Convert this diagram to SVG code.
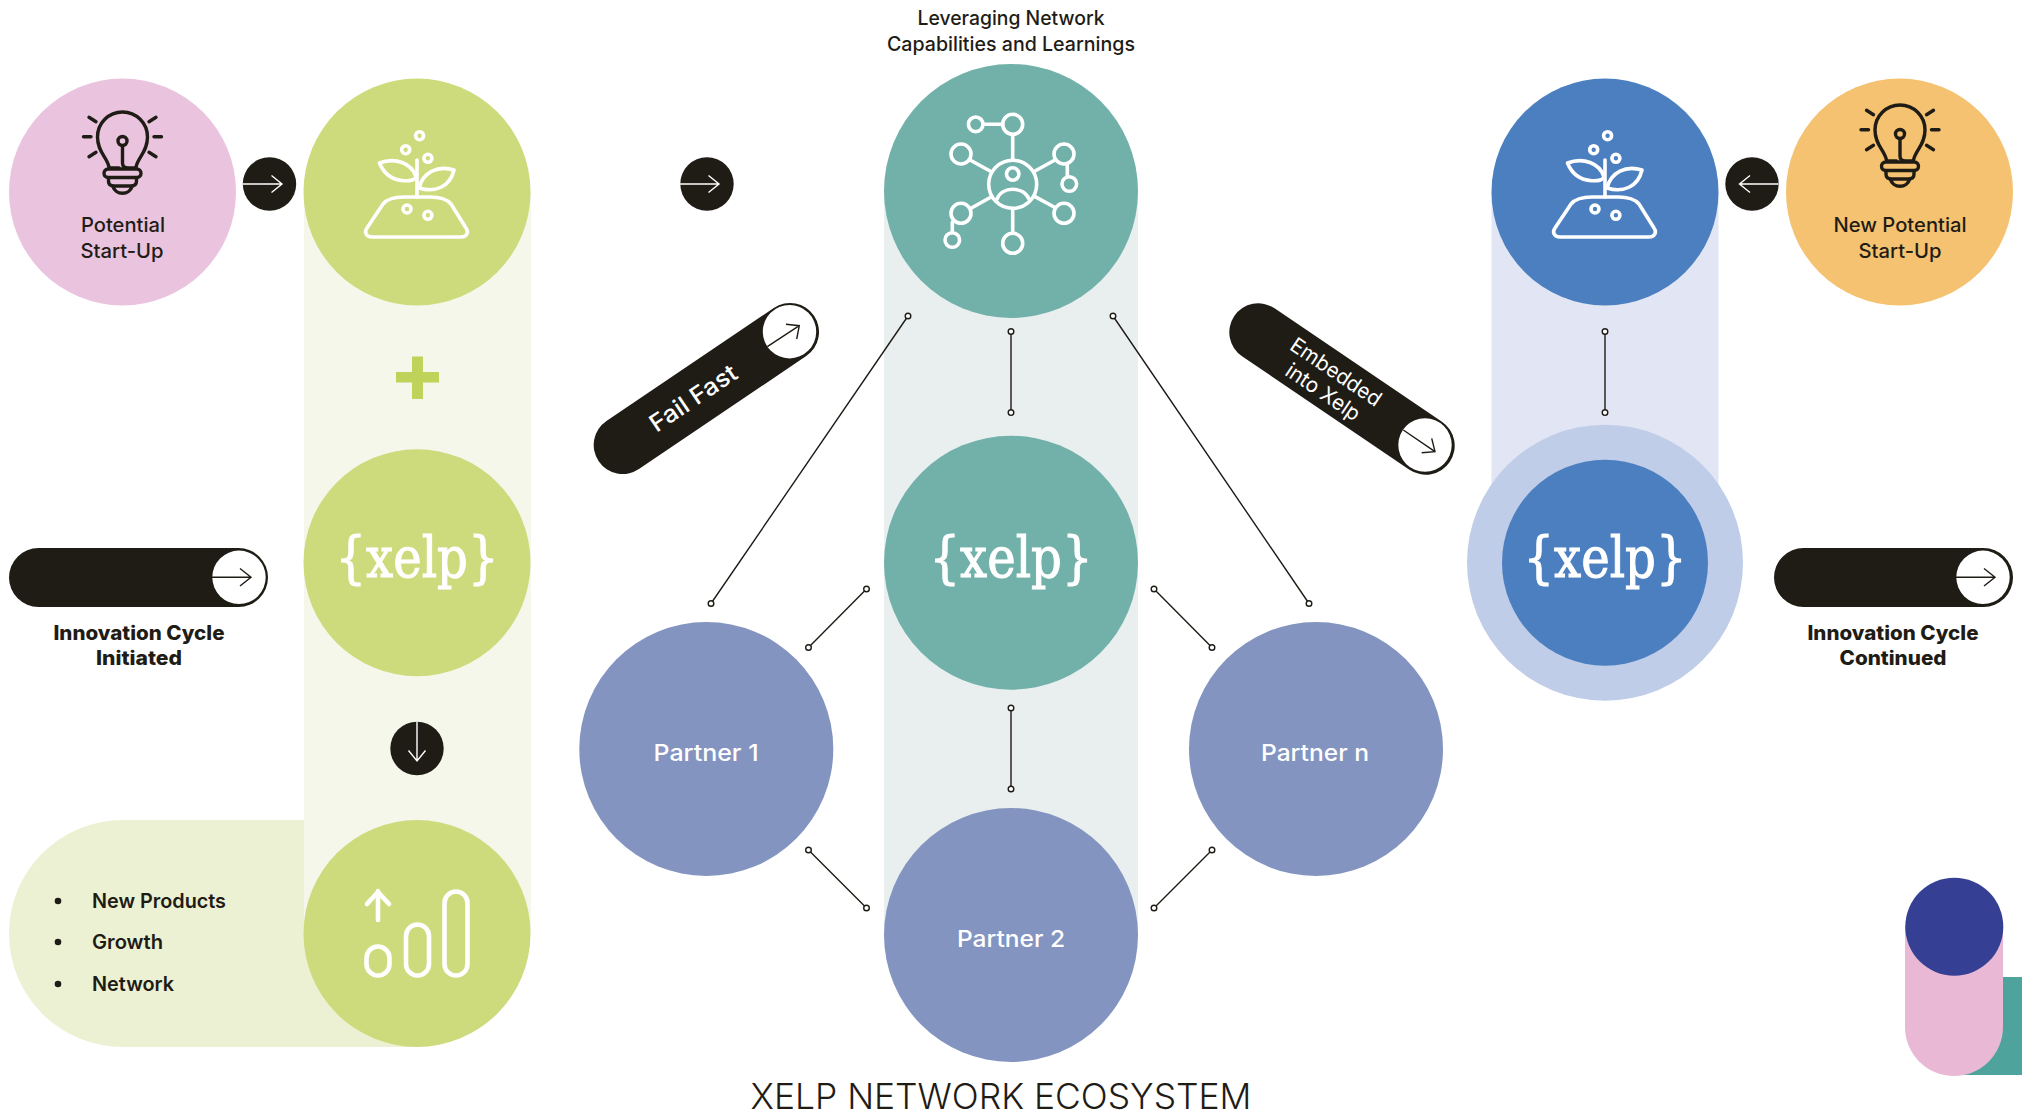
<svg xmlns="http://www.w3.org/2000/svg" width="2022" height="1114" viewBox="0 0 2022 1114">
<style>
text{font-family:"Inter","Liberation Sans",sans-serif;fill:#1f1c16;text-anchor:middle}
.lbl{font-size:20px;font-weight:500}
.bold{font-size:20px;font-weight:800}
.li{font-size:20px;font-weight:600;text-anchor:start}
.wt{fill:#fff}
.partner{font-size:23px;font-weight:500;fill:#fff}
.xelp{font-family:"DejaVu Serif",serif;font-size:56px;fill:#fff;stroke:#fff;stroke-width:1.1}
.title{font-size:35px;font-weight:300}
.dark{fill:#1f1c16}
.conn{fill:none;stroke:#1f1c16;stroke-width:1.4}
.dot{fill:#fff;stroke:#1f1c16;stroke-width:1.4}
.arw{fill:none;stroke:#fff;stroke-width:1.4}
.arwd{fill:none;stroke:#1f1c16;stroke-width:1.4}
.ico{fill:none;stroke:#1f1c16;stroke-width:3.4;stroke-linecap:round;stroke-linejoin:round}
.icw{fill:none;stroke:#fff;stroke-width:3.6;stroke-linecap:round;stroke-linejoin:round}
.g{fill:#cedb7d}.t{fill:#72b1aa}.b{fill:#4c7fc0}.p{fill:#8394c0}
</style>
<defs>
<g id="bulb">
<path d="M109,167C107,157 97.500,152 97.500,137A25,25 0 0 1 147.500,137C147.500,152 138,157 136,167"/>
<circle cx="122.500" cy="141" r="4.500"/>
<path d="M122.500,146V163Q122.500,168 128,168H136M109,168H119"/>
<rect x="104" y="169" width="37" height="8.500" rx="4.200"/>
<path d="M108.500,178V181Q108.500,186 114,186H131Q136.500,186 136.500,181V178"/>
<path d="M113,186.500A9.800,9 0 0 0 132,186.500"/>
<path d="M83.500,136.700H91M154,136.700H161.500M89,117.300L96,121.700M156,117.300L149,121.700M89,156.700L96,152.300M156,156.700L149,152.300"/>
</g>
<g id="plant">
<circle cx="419.600" cy="135.700" r="4"/><circle cx="405.700" cy="149.700" r="4"/><circle cx="427.900" cy="158.300" r="4"/>
<circle cx="407" cy="209" r="4"/><circle cx="427.900" cy="215.300" r="4"/>
<path d="M417,160V197"/>
<path d="M379.500,163C395,157 412,163 416,177C414,181 409,181 403.600,180.700C392,180 384,174 379.500,163Z"/>
<path d="M454,170C438,165 423,172 419,188C435,193 450,187 454,170Z"/>
<path d="M372,237H461C467,237 469,232 466,228L451,204C446,198 438,197 430,197H404C396,197 388,198 383,204L367,228C364,232 366,237 372,237Z"/>
</g>
</defs>

<g id="bands">
<path d="M417,820H122.500A113.500,113.500 0 0 0 122.500,1047H417Z" fill="#ecf1d3"/>
<rect x="304" y="192" width="227" height="741" fill="#f5f7ea"/>
<rect x="884" y="191" width="254" height="744" fill="#e9efef"/>
<rect x="1491.500" y="192" width="227" height="370" fill="#e2e6f4"/>
</g>

<g id="connectors">
<path class="conn" d="M908,316L711,603.500M1011,331.500V412.600M1113,316L1309,603.500M866.500,589L808.500,647.500M1154,589L1212,647.500M1011,708V789M808.500,850L866.500,908M1212,850L1154,908M1605,331.500V412.600"/>
<g class="dot">
<circle cx="908" cy="316" r="2.800"/><circle cx="711" cy="603.500" r="2.800"/>
<circle cx="1011" cy="331.500" r="2.800"/><circle cx="1011" cy="412.600" r="2.800"/>
<circle cx="1113" cy="316" r="2.800"/><circle cx="1309" cy="603.500" r="2.800"/>
<circle cx="866.500" cy="589" r="2.800"/><circle cx="808.500" cy="647.500" r="2.800"/>
<circle cx="1154" cy="589" r="2.800"/><circle cx="1212" cy="647.500" r="2.800"/>
<circle cx="1011" cy="708" r="2.800"/><circle cx="1011" cy="789" r="2.800"/>
<circle cx="808.500" cy="850" r="2.800"/><circle cx="866.500" cy="908" r="2.800"/>
<circle cx="1212" cy="850" r="2.800"/><circle cx="1154" cy="908" r="2.800"/>
<circle cx="1605" cy="331.500" r="2.800"/><circle cx="1605" cy="412.600" r="2.800"/>
</g>
</g>

<g id="node-potential">
<circle cx="122.500" cy="192" r="113.500" fill="#eac4de"/>
<use href="#bulb" class="ico"/>
<text class="lbl" x="123" y="231.500" textLength="84" lengthAdjust="spacingAndGlyphs">Potential</text>
<text class="lbl" x="122" y="258" textLength="83" lengthAdjust="spacingAndGlyphs">Start-Up</text>
</g>

<g id="node-new-potential">
<circle cx="1899.500" cy="192" r="113.500" fill="#f4c270"/>
<use href="#bulb" class="ico" transform="translate(1777.500,-7)"/>
<text class="lbl" x="1900" y="231.500" textLength="133" lengthAdjust="spacingAndGlyphs">New Potential</text>
<text class="lbl" x="1900" y="258" textLength="83" lengthAdjust="spacingAndGlyphs">Start-Up</text>
</g>

<g id="node-seed">
<circle class="g" cx="417" cy="192" r="113.500"/>
<use href="#plant" class="icw"/>
</g>

<g id="node-plus">
<path fill="#bfd25a" d="M412,356.500H423V372H439V382.500H423V399H412V382.500H396V372H412Z"/>
</g>

<g id="node-xelp-green">
<circle class="g" cx="417" cy="562.700" r="113.500"/>
<text class="xelp" x="417" y="577" textLength="163" lengthAdjust="spacingAndGlyphs">{xelp}</text>
</g>

<g id="node-growth">
<circle class="g" cx="417" cy="933.500" r="113.500"/>
<g class="icw" style="stroke-width:4.600">
<path d="M378,920V891M367,904L378,892L389,904"/>
<rect x="366.500" y="946.500" width="23" height="29" rx="11.500"/>
<rect x="406" y="924.500" width="23" height="51" rx="11.500"/>
<rect x="444.500" y="891.500" width="23" height="84" rx="11.500"/>
</g>
</g>

<g id="node-list">
<circle class="dark" cx="58" cy="901" r="3.300"/><circle class="dark" cx="58" cy="942" r="3.300"/><circle class="dark" cx="58" cy="984" r="3.300"/>
<text class="li" x="92" y="907.500" textLength="134" lengthAdjust="spacingAndGlyphs">New Products</text>
<text class="li" x="92" y="949" textLength="71" lengthAdjust="spacingAndGlyphs">Growth</text>
<text class="li" x="92" y="990.500" textLength="82" lengthAdjust="spacingAndGlyphs">Network</text>
</g>

<g id="node-arrow-1">
<circle class="dark" cx="269.500" cy="184" r="26.700"/>
<path class="arw" d="M243,184H282M271.500,175.500L282,184L271.500,192.500"/>
</g>
<g id="node-arrow-2">
<circle class="dark" cx="707" cy="184" r="26.700"/>
<path class="arw" d="M680,184H719M708.500,175.500L719,184L708.500,192.500"/>
</g>
<g id="node-arrow-3">
<circle class="dark" cx="1752" cy="184" r="26.700"/>
<path class="arw" d="M1778.500,184H1739.500M1750,175.500L1739.500,184L1750,192.500"/>
</g>
<g id="node-arrow-down">
<circle class="dark" cx="417" cy="748.500" r="26.700"/>
<path class="arw" d="M417,721.500V761M408.500,750.500L417,761L425.500,750.500"/>
</g>

<g id="node-cycle-start">
<rect class="dark" x="9" y="548" width="259" height="59" rx="29.500"/>
<circle cx="239" cy="577.300" r="26.700" fill="#fff"/>
<path class="arwd" d="M212,577.300H251M240,568.500L251,577.300L240,586"/>
<text class="bold" x="139" y="640" textLength="171" lengthAdjust="spacingAndGlyphs">Innovation Cycle</text>
<text class="bold" x="139" y="665" textLength="86" lengthAdjust="spacingAndGlyphs">Initiated</text>
</g>

<g id="node-cycle-continued">
<rect class="dark" x="1774" y="548" width="239" height="59" rx="29.500"/>
<circle cx="1983" cy="577.300" r="26.700" fill="#fff"/>
<path class="arwd" d="M1956,577.300H1995M1984,568.500L1995,577.300L1984,586"/>
<text class="bold" x="1893" y="640" textLength="171" lengthAdjust="spacingAndGlyphs">Innovation Cycle</text>
<text class="bold" x="1893" y="665" textLength="107" lengthAdjust="spacingAndGlyphs">Continued</text>
</g>

<g id="node-fail-fast">
<path d="M622.700,445L790,332" stroke="#1f1c16" stroke-width="58" stroke-linecap="round" fill="none"/>
<circle cx="789.500" cy="331.700" r="26.700" fill="#fff"/>
<path class="arwd" d="M767.300,346.700L799.300,325.700M786,324.300L799.300,325.700L796.700,339"/>
<text class="wt" transform="translate(698,405) rotate(-34)" style="font-size:24px;font-weight:500" textLength="100" lengthAdjust="spacingAndGlyphs">Fail Fast</text>
</g>

<g id="node-embedded">
<path d="M1258.300,332.300L1425.700,445.700" stroke="#1f1c16" stroke-width="58" stroke-linecap="round" fill="none"/>
<circle cx="1425" cy="445" r="26.700" fill="#fff"/>
<path class="arwd" d="M1403.300,430L1435,451.700M1431.700,438.300L1435,451.700L1421.700,452.700"/>
<text class="wt" transform="translate(1332,378) rotate(34)" style="font-size:21px;font-weight:400" textLength="105" lengthAdjust="spacingAndGlyphs">Embedded</text>
<text class="wt" transform="translate(1319,398) rotate(34)" style="font-size:21px;font-weight:400" textLength="85" lengthAdjust="spacingAndGlyphs">into Xelp</text>
</g>

<g id="node-network">
<circle class="t" cx="1011" cy="191" r="127"/>
<g class="icw">
<circle cx="1012.700" cy="184.300" r="24"/><circle cx="1012.700" cy="174" r="6.200"/>
<path d="M997,199C1002,186 1023,186 1029,199"/>
<circle cx="1012.700" cy="124.300" r="10"/><circle cx="975.700" cy="124.300" r="7.300"/>
<circle cx="961" cy="154" r="10"/><circle cx="1064" cy="154" r="10"/>
<circle cx="961" cy="213.300" r="10"/><circle cx="1064" cy="213.300" r="10"/>
<circle cx="1012.700" cy="243.300" r="10"/><circle cx="1069.300" cy="184" r="7.300"/><circle cx="952.300" cy="240" r="7.300"/>
<path d="M983,124.300H1002.700M1012.700,134.500V159M970,160L990,171M1055,160L1035,171M971.500,208L991.500,196.700M1055,207.500L1035,196.700M1012.700,209V233M1067.300,164.500V176.500M952.300,222V232.500"/>
</g>
<text class="lbl" x="1011" y="25" textLength="187" lengthAdjust="spacingAndGlyphs">Leveraging Network</text>
<text class="lbl" x="1011" y="50.500" textLength="248" lengthAdjust="spacingAndGlyphs">Capabilities and Learnings</text>
</g>

<g id="node-xelp-teal">
<circle class="t" cx="1011" cy="562.700" r="127"/>
<text class="xelp" x="1011" y="577" textLength="163" lengthAdjust="spacingAndGlyphs">{xelp}</text>
</g>

<g id="node-partner-1">
<circle class="p" cx="706.300" cy="749" r="127"/>
<text class="partner" x="706" y="761" textLength="105" lengthAdjust="spacingAndGlyphs">Partner 1</text>
</g>
<g id="node-partner-2">
<circle class="p" cx="1011" cy="935" r="127"/>
<text class="partner" x="1011" y="947" textLength="108" lengthAdjust="spacingAndGlyphs">Partner 2</text>
</g>
<g id="node-partner-n">
<circle class="p" cx="1316" cy="749" r="127"/>
<text class="partner" x="1315" y="761" textLength="108" lengthAdjust="spacingAndGlyphs">Partner n</text>
</g>

<g id="node-seed-blue">
<circle class="b" cx="1605" cy="192" r="113.500"/>
<use href="#plant" class="icw" transform="translate(1188,0)"/>
</g>

<g id="node-xelp-blue">
<circle cx="1605" cy="562.700" r="138" fill="#c0cde8"/>
<circle class="b" cx="1605" cy="562.700" r="103"/>
<text class="xelp" x="1605" y="577" textLength="163" lengthAdjust="spacingAndGlyphs">{xelp}</text>
</g>

<g id="node-decor">
<rect x="1954" y="977" width="68" height="98" fill="#4ea49c"/>
<path d="M1905,926H2003V1027A49,49 0 0 1 1905,1027Z" fill="#e8b8d5"/>
<circle cx="1954.300" cy="926.700" r="49" fill="#353f93"/>
</g>

<text class="title" x="1001" y="1109" textLength="501" lengthAdjust="spacingAndGlyphs">XELP NETWORK ECOSYSTEM</text>
</svg>
